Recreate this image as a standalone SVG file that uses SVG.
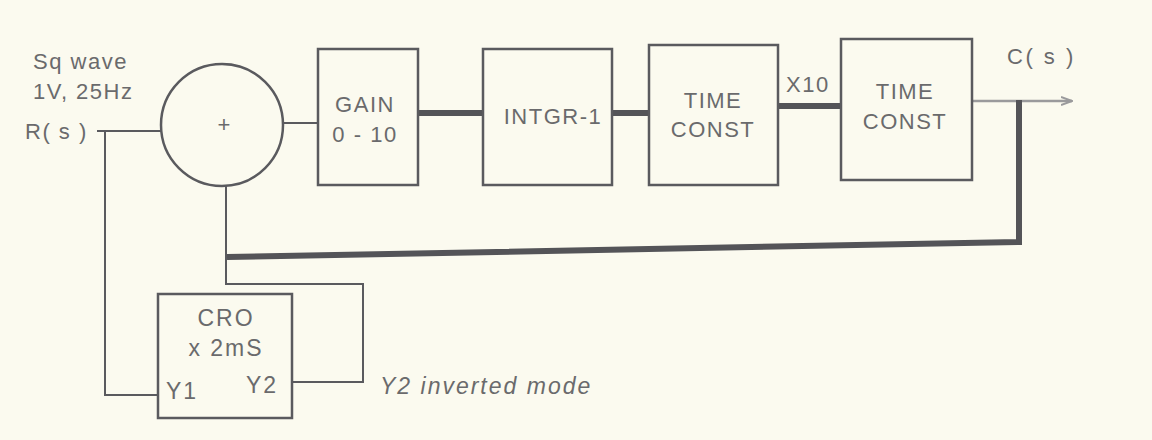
<svg xmlns="http://www.w3.org/2000/svg" width="1152" height="440" viewBox="0 0 1152 440">
<defs>
<style>
.bg{fill:#fbfaef}
.box{fill:none;stroke:#5a5a5e;stroke-width:2.5}
.thin{fill:none;stroke:#5a5a5e;stroke-width:2}
.thick{fill:none;stroke:#545458;stroke-width:6}
.out{fill:none;stroke:#9a9a9c;stroke-width:2.5}
text{font-family:"Liberation Sans",Arial,sans-serif;font-size:22px;letter-spacing:1.5px;fill:#6a6a6c}
.c{text-anchor:middle}
.cro{font-size:23px;letter-spacing:2px}
</style>
<marker id="arr" viewBox="0 0 12 10" refX="11" refY="5" markerWidth="12" markerHeight="10" markerUnits="userSpaceOnUse" orient="auto">
<path d="M0,1 L11,5 L0,9" fill="none" stroke="#9a9a9c" stroke-width="2"/>
</marker>
</defs>
<rect class="bg" x="0" y="0" width="1152" height="440"/>
<g id="labels">
<text x="33" y="69">Sq wave</text>
<text x="33" y="99">1V, 25Hz</text>
<text x="25" y="139">R( s )</text>
<text x="1007" y="64" style="letter-spacing:2.5px">C( s )</text>
<text x="786" y="92">X10</text>
<text x="380" y="394" style="font-style:italic;font-size:23px;letter-spacing:2px">Y2 inverted mode</text>
</g>
<g id="connectors">
<path class="thin" d="M97,131 H161"/>
<path class="thin" d="M105,131 V395 H158"/>
<path class="thin" d="M284,123 H318"/>
<path class="thick" d="M418,113 H483"/>
<path class="thick" d="M612,113 H649"/>
<path class="thick" d="M778,106 H841"/>
<path class="out" d="M972,101 H1072" marker-end="url(#arr)"/>
<path class="thick" d="M1019,100 V242 L227,257"/>
<path class="thin" d="M226,185 V284 H363 V382 H292"/>
</g>
<g id="summer">
<circle class="box" cx="222" cy="125" r="61"/>
<text class="c" x="224" y="132" style="font-size:22px;letter-spacing:0">+</text>
</g>
<g id="gain">
<rect class="box" x="318" y="49" width="100" height="136"/>
<text class="c" x="365" y="112">GAIN</text>
<text class="c" x="365" y="142">0 - 10</text>
</g>
<g id="intgr">
<rect class="box" x="483" y="49" width="129" height="136"/>
<text class="c" x="553" y="124">INTGR-1</text>
</g>
<g id="tc1">
<rect class="box" x="649" y="45" width="129" height="140"/>
<text class="c" x="713" y="108">TIME</text>
<text class="c" x="713" y="137">CONST</text>
</g>
<g id="tc2">
<rect class="box" x="841" y="39" width="131" height="141"/>
<text class="c" x="905" y="99">TIME</text>
<text class="c" x="905" y="129">CONST</text>
</g>
<g id="cro">
<rect class="box" x="158" y="294" width="134" height="124"/>
<text class="c cro" x="226" y="326">CRO</text>
<text class="c cro" x="226" y="356">x 2mS</text>
<text class="cro" x="166" y="399">Y1</text>
<text class="cro" x="246" y="393">Y2</text>
</g>
</svg>
